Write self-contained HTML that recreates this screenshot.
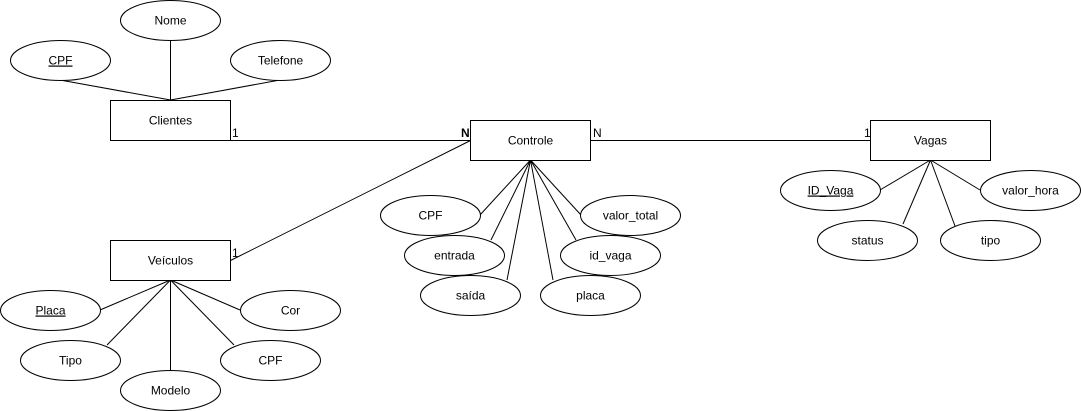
<!DOCTYPE html>
<html><head><meta charset="utf-8"><style>
html,body{margin:0;padding:0;background:#fff;}
svg{display:block;}
text{font-family:"Liberation Sans",Arial,sans-serif;font-size:12px;fill:#000;}
</style></head><body>
<svg width="1081" height="411" viewBox="0 0 1081 411" xmlns="http://www.w3.org/2000/svg">
<g stroke="#000" stroke-width="1" fill="none">
<!-- relationship lines -->
<line x1="230.5" y1="140.5" x2="470.5" y2="140.5"/>
<line x1="230.5" y1="260.5" x2="470.5" y2="140.5"/>
<line x1="590.5" y1="140.5" x2="870.5" y2="140.5"/>
<!-- Clientes attrs -->
<line x1="170.5" y1="100" x2="60" y2="80"/>
<line x1="170.5" y1="100" x2="170.5" y2="40"/>
<line x1="170.5" y1="100" x2="280" y2="80"/>
<!-- Veiculos attrs -->
<line x1="170.5" y1="280" x2="100" y2="310"/>
<line x1="170.5" y1="280" x2="107" y2="345"/>
<line x1="170.5" y1="280" x2="170.5" y2="370"/>
<line x1="170.5" y1="280" x2="234" y2="345"/>
<line x1="170.5" y1="280" x2="240" y2="310"/>
<!-- Controle attrs -->
<line x1="530.5" y1="160" x2="480" y2="215"/>
<line x1="530.5" y1="160" x2="491" y2="240"/>
<line x1="530.5" y1="160" x2="507" y2="280"/>
<line x1="530.5" y1="160" x2="553" y2="280"/>
<line x1="530.5" y1="160" x2="576" y2="240"/>
<line x1="530.5" y1="160" x2="581" y2="215"/>
<!-- Vagas attrs -->
<line x1="930.5" y1="160" x2="880" y2="190"/>
<line x1="930.5" y1="160" x2="903" y2="224"/>
<line x1="930.5" y1="160" x2="955" y2="226"/>
<line x1="930.5" y1="160" x2="980" y2="190"/>
</g>
<g stroke="#000" stroke-width="1" fill="#fff">
<rect x="110.5" y="100.5" width="120" height="40"/>
<rect x="470.5" y="120.5" width="120" height="40"/>
<rect x="870.5" y="120.5" width="120" height="40"/>
<rect x="110.5" y="240.5" width="120" height="40"/>
<ellipse cx="170.5" cy="20.5" rx="50" ry="20"/>
<ellipse cx="60.5" cy="60.5" rx="50" ry="20"/>
<ellipse cx="280.5" cy="60.5" rx="50" ry="20"/>
<ellipse cx="50.5" cy="310.5" rx="50" ry="20"/>
<ellipse cx="290.5" cy="310.5" rx="50" ry="20"/>
<ellipse cx="70.5" cy="360.5" rx="50" ry="20"/>
<ellipse cx="270.5" cy="360.5" rx="50" ry="20"/>
<ellipse cx="170.5" cy="390.5" rx="50" ry="20"/>
<ellipse cx="430.5" cy="215.5" rx="50" ry="20"/>
<ellipse cx="454.5" cy="255.5" rx="50" ry="20"/>
<ellipse cx="470.5" cy="295.5" rx="50" ry="20"/>
<ellipse cx="630.5" cy="215.5" rx="50" ry="20"/>
<ellipse cx="610.5" cy="255.5" rx="50" ry="20"/>
<ellipse cx="590.5" cy="295.5" rx="50" ry="20"/>
<ellipse cx="830.5" cy="190.5" rx="50" ry="20"/>
<ellipse cx="1030.5" cy="190.5" rx="50" ry="20"/>
<ellipse cx="867.5" cy="240.5" rx="50" ry="20"/>
<ellipse cx="990.5" cy="240.5" rx="50" ry="20"/>
</g>
<g text-anchor="middle">
<text x="170.5" y="124.5">Clientes</text>
<text x="530.5" y="144.5">Controle</text>
<text x="930.5" y="144.5">Vagas</text>
<text x="170.5" y="264.5">Veículos</text>
<text x="170.5" y="24.5">Nome</text>
<text x="60.5" y="64.5" text-decoration="underline">CPF</text>
<text x="280.5" y="64.5">Telefone</text>
<text x="50.5" y="314.5" text-decoration="underline">Placa</text>
<text x="290.5" y="314.5">Cor</text>
<text x="70.5" y="364.5">Tipo</text>
<text x="270.5" y="364.5">CPF</text>
<text x="170.5" y="394.5">Modelo</text>
<text x="430.5" y="219.5">CPF</text>
<text x="454.5" y="259.5">entrada</text>
<text x="470.5" y="299.5">saída</text>
<text x="630.5" y="219.5">valor_total</text>
<text x="610.5" y="259.5">id_vaga</text>
<text x="590.5" y="299.5">placa</text>
<text x="830.5" y="194.5" text-decoration="underline">ID_Vaga</text>
<text x="1030.5" y="194.5">valor_hora</text>
<text x="867.5" y="244.5">status</text>
<text x="990.5" y="244.5">tipo</text>
</g>
<text x="232" y="137">1</text>
<text x="461" y="137" font-weight="bold">N</text>
<text x="593" y="137">N</text>
<text x="864" y="137">1</text>
<text x="232" y="257">1</text>
</svg>
</body></html>
